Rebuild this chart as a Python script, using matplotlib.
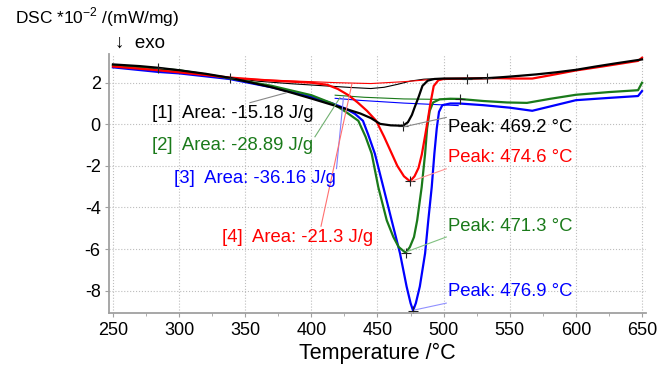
import matplotlib
matplotlib.use('Agg')
import matplotlib.pyplot as plt
from matplotlib.ticker import MultipleLocator

plt.rcParams['font.family'] = ['Liberation Sans', 'DejaVu Sans']

# --- DSC curves (temperature in C, signal in 10^-2 mW/mg) ---
t1 = [250, 270, 284, 300, 320, 338, 355, 370, 385, 400, 415, 428, 437, 445, 452, 460, 469.2,
      473, 476, 478, 481, 484, 488, 493, 500, 518, 533, 545, 557, 570, 585, 600, 615, 630, 650]
v1 = [2.88, 2.8, 2.72, 2.6, 2.43, 2.24, 2.0, 1.78, 1.52, 1.24, 0.95, 0.7, 0.52, 0.3, 0.02, -0.05, -0.07,
      0.1, 0.45, 0.8, 1.3, 1.85, 2.1, 2.18, 2.2, 2.2, 2.22, 2.27, 2.33, 2.4, 2.5, 2.62, 2.78, 2.93, 3.12]

t2 = [250, 284, 300, 338, 370, 400, 416, 426, 435.5, 441, 445.6, 450.6, 457, 462, 466, 471.3,
      474.5, 477.6, 480, 483.4, 486, 487.5, 489.5, 492, 497, 505, 512, 530, 548, 563, 580, 600,
      625, 647, 650]
v2 = [2.85, 2.68, 2.6, 2.22, 1.85, 1.4, 1.0, 0.6, 0.17, -0.6, -1.41, -3.02, -4.62, -5.42, -5.9, -6.18,
      -5.9, -5.42, -4.62, -3.02, -1.41, -0.2, 0.65, 1.05, 1.2, 1.23, 1.22, 1.12, 1.05, 1.03, 1.22, 1.42,
      1.55, 1.64, 2.0]

t3 = [250, 284, 300, 338, 370, 400, 416, 426, 433, 439, 443, 448, 454.4, 460.7, 467, 472, 475,
      476.9, 479, 482, 486, 488.4, 491, 493, 494.8, 496.5, 499, 505, 512, 530, 550, 567, 580, 600,
      625, 647, 650]
v3 = [2.74, 2.52, 2.45, 2.18, 1.78, 1.32, 1.0, 0.75, 0.5, 0.17, -0.5, -1.41, -3.02, -4.62, -6.2, -7.8, -8.6,
      -8.96, -8.6, -7.8, -6.2, -4.62, -3.02, -1.41, -0.2, 0.6, 0.92, 1.0, 1.0, 0.92, 0.8, 0.65, 0.85, 1.16,
      1.27, 1.36, 1.6]

t4 = [250, 284, 300, 338, 370, 400, 412, 420, 428, 435, 442, 449, 455, 460, 465, 470, 474.6, 478,
      481, 483.5, 486, 488, 490, 492.5, 496, 500, 520, 540, 555, 567, 580, 600, 620, 640, 647, 650]
v4 = [2.78, 2.6, 2.5, 2.25, 2.1, 2.0, 1.9, 1.7, 1.4, 1.05, 0.65, 0.17, -0.6, -1.3, -2.0, -2.5, -2.74, -2.5,
      -2.1, -1.45, -0.55, 0.2, 1.0, 1.84, 2.12, 2.18, 2.2, 2.22, 2.2, 2.2, 2.35, 2.59, 2.78, 2.98, 3.05, 3.2]

# integration baselines
b1_t = [338, 360, 385, 410, 430, 445, 455, 465, 475, 485, 495, 533]
b1_v = [2.24, 2.07, 1.95, 1.85, 1.77, 1.72, 1.78, 1.92, 2.08, 2.17, 2.2, 2.22]
b2_t = [418, 440, 470, 495, 512]
b2_v = [1.4, 1.3, 1.22, 1.2, 1.2]
b3_t = [418, 437, 470, 511]
b3_v = [1.25, 1.15, 1.02, 0.9]
b4_t = [338, 380, 420, 445, 470, 490, 500]
b4_v = [2.22, 2.1, 2.0, 1.96, 2.05, 2.15, 2.2]

# evaluation markers
mark_t = [284, 338.5, 469.2, 517.6, 532.8, 474.6, 471.3, 512, 476.9]
mark_v = [2.72, 2.24, -0.07, 2.2, 2.22, -2.74, -6.18, 1.2, -8.96]

area_labels = ['[1]  Area: -15.18 J/g', '[2]  Area: -28.89 J/g',
               '[3]  Area: -36.16 J/g', '[4]  Area: -21.3 J/g']
peak_labels = ['Peak: 469.2 °C', 'Peak: 474.6 °C', 'Peak: 471.3 °C', 'Peak: 476.9 °C']

c_blk, c_grn, c_blu, c_red = '#000000', '#1a7a1a', '#0000ff', '#ff0000'
fs = 13.3

fig = plt.figure(figsize=(6.72, 3.69), dpi=100)
ax = fig.add_axes([0.1622, 0.1509, 0.7991, 0.7027])

# baselines (thin)
ax.plot(b1_t, b1_v, color=c_blk, lw=0.8)
ax.plot(b4_t, b4_v, color=c_red, lw=0.8)
ax.plot(b2_t, b2_v, color=c_grn, lw=0.8)
ax.plot(b3_t, b3_v, color=c_blu, lw=0.8)

# main curves
ax.plot(t3, v3, color=c_blu, lw=1.6)
ax.plot(t2, v2, color=c_grn, lw=1.6)
ax.plot(t4, v4, color=c_red, lw=1.6)
ax.plot(t1, v1, color=c_blk, lw=1.6)

ax.plot(mark_t, mark_v, ls='none', marker='+', ms=7, mew=0.8, color='#222222')

# area labels with leader lines
ax.text(279.5, 0.54, area_labels[0], color=c_blk, fontsize=fs, va='center')
ax.text(279.5, -1.04, area_labels[1], color=c_grn, fontsize=fs, va='center')
ax.text(296, -2.63, area_labels[2], color=c_blu, fontsize=fs, va='center')
ax.text(332.4, -5.44, area_labels[3], color=c_red, fontsize=fs, va='center')
ax.plot([353.6, 381.3], [1.04, 1.52], color='#888888', lw=0.8)
ax.plot([402.7, 421.6], [-0.6, 1.28], color='#70b070', lw=0.8)
ax.plot([419, 424.3], [-2.13, 1.32], color='#8080ff', lw=0.8)
ax.plot([407.3, 430.7], [-4.9, 1.95], color='#ff7070', lw=0.8)

# peak labels with leader lines
ax.text(503.3, -0.13, peak_labels[0], color=c_blk, fontsize=fs, va='center')
ax.text(503.3, -1.6, peak_labels[1], color=c_red, fontsize=fs, va='center')
ax.text(503.3, -4.92, peak_labels[2], color=c_grn, fontsize=fs, va='center')
ax.text(503.3, -8.05, peak_labels[3], color=c_blu, fontsize=fs, va='center')
ax.plot([470, 502], [-0.12, 0.33], color='#888888', lw=0.8)
ax.plot([476, 502], [-2.73, -2.14], color='#ff9090', lw=0.8)
ax.plot([472, 502], [-6.13, -5.42], color='#80c080', lw=0.8)
ax.plot([478, 502], [-8.93, -8.6], color='#9090ff', lw=0.8)

ax.set_xlim(247, 653)
ax.set_ylim(-9.09, 3.38)
ax.xaxis.set_major_locator(MultipleLocator(50))
ax.xaxis.set_minor_locator(MultipleLocator(25))
ax.set_yticks([2, 0, -2, -4, -6, -8])
ax.set_yticklabels(['2', '0', '-2', '-4', '-6', '-8'])
ax.grid(True, which='major', color='#bdbdbd', ls=':', lw=0.8)
ax.set_axisbelow(True)

for s in ['top', 'right']:
    ax.spines[s].set_visible(False)
for s in ['left', 'bottom']:
    ax.spines[s].set_color('#a0a0a0')
    ax.spines[s].set_linewidth(1.3)
ax.tick_params(which='both', direction='out', color='#a0a0a0', labelsize=13, pad=3)
ax.tick_params(which='major', length=3)
ax.tick_params(which='minor', length=2)

ax.set_xlabel('Temperature /°C', fontsize=15.5, labelpad=3)
fig.text(15 / 672, 1 - 17 / 369, r'DSC *10$^{\mathregular{-2}}$ /(mW/mg)', fontsize=12.5, va='center')
fig.text(115 / 672, 1 - 43 / 369, '↓  exo', fontsize=13.5, va='center')

fig.savefig('out.png', dpi=100)
